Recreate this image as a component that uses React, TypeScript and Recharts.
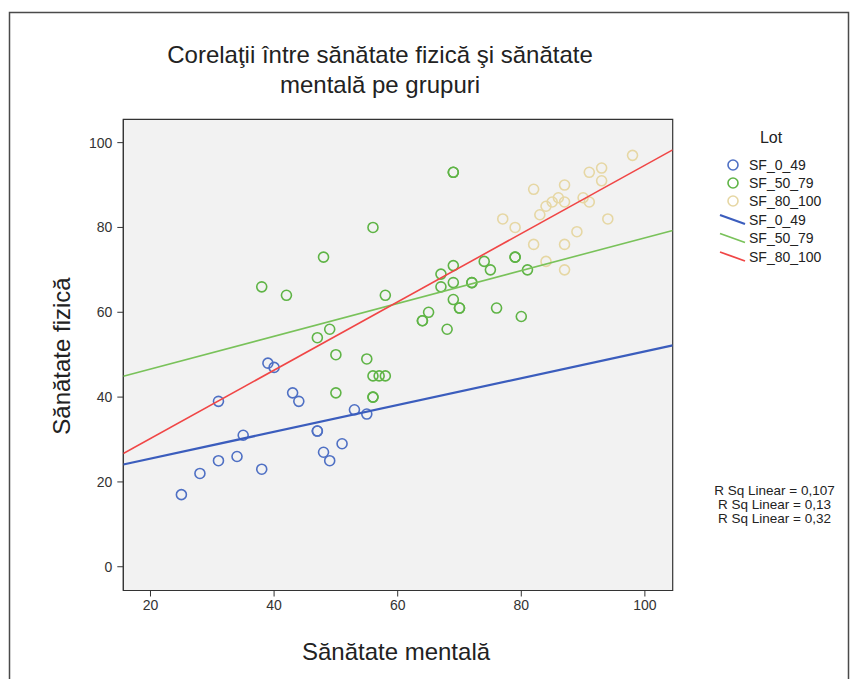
import { ScatterChart, Scatter, XAxis, YAxis, ReferenceArea } from 'recharts';

const FONT = '"Liberation Sans", Arial, Helvetica, sans-serif';

const lotNames = ['SF_0_49', 'SF_50_79', 'SF_80_100'];
const rSqValues = ['0,107', '0,13', '0,32'];
const xTicks = [20, 40, 60, 80, 100];
const yTicks = [0, 20, 40, 60, 80, 100];

// sănătate mentală, sănătate fizică
const sf049 = [
  [25, 17], [28, 22], [31, 25], [34, 26], [31, 39], [35, 31], [38, 23], [39, 48], [40, 47],
  [43, 41], [44, 39], [47, 32], [47, 32], [48, 27], [49, 25], [51, 29], [53, 37], [55, 36],
];

const sf5079 = [
  [38, 66], [42, 64], [48, 73], [56, 80], [58, 64], [47, 54], [49, 56], [50, 50], [55, 49],
  [56, 45], [57, 45], [58, 45], [50, 41], [56, 40], [56, 40], [69, 93], [69, 93], [67, 69],
  [69, 71], [74, 72], [75, 70], [79, 73], [79, 73], [81, 70], [67, 66], [69, 67], [72, 67],
  [72, 67], [69, 63], [70, 61], [70, 61], [65, 60], [64, 58], [64, 58], [68, 56], [76, 61],
  [80, 59],
];

const sf80100 = [
  [98, 97], [91, 93], [93, 94], [93, 91], [82, 89], [87, 90], [86, 87], [85, 86], [84, 85],
  [87, 86], [90, 87], [91, 86], [83, 83], [77, 82], [79, 80], [94, 82], [89, 79], [82, 76],
  [87, 76], [84, 72], [87, 70],
];

// fit lines, ends read at the plot edges
const fit049 = [[15.6, 24.1], [104.5, 52.2]];
const fit5079 = [[15.6, 44.9], [104.5, 79.3]];
const fit80100 = [[15.6, 26.7], [104.5, 98.3]];

const ringColors = ['#4f70c4', '#5fb446', '#e6d7a4'];
const lineColors = ['#3b5dbd', '#79c25a', '#f04646'];

const toPts = (arr: number[][]) => arr.map(([x, y]) => ({ x, y }));

const ring = (color: string) => (props: any) => (
  <circle cx={props.cx} cy={props.cy} r={5} fill="none" stroke={color} strokeWidth={1.6} />
);

const noDot = () => <g />;

export default function App() {
  const tickStyle = { fill: '#333', fontSize: 14, fontFamily: FONT };
  return (
    <div style={{ position: 'absolute', left: 0, top: 0, width: 854, height: 679, overflow: 'hidden', background: '#fff' }}>
      <ScatterChart width={854} height={679} margin={{ top: 119.3, right: 181.3, bottom: 58.5, left: 73.3 }}>
        <XAxis
          type="number"
          dataKey="x"
          domain={[15.6, 104.5]}
          ticks={xTicks}
          allowDataOverflow
          height={30}
          tickSize={6}
          tickMargin={4}
          axisLine={{ stroke: '#333' }}
          tickLine={{ stroke: '#333' }}
          tick={tickStyle}
        />
        <YAxis
          type="number"
          dataKey="y"
          domain={[-5.6, 105.5]}
          ticks={yTicks}
          allowDataOverflow
          width={50}
          tickSize={6}
          tickMargin={5}
          axisLine={{ stroke: '#333' }}
          tickLine={{ stroke: '#333' }}
          tick={tickStyle}
        />
        <ReferenceArea x1={15.6} x2={104.5} y1={-5.6} y2={105.5} fill="#f2f2f2" fillOpacity={1} stroke="#333" strokeWidth={1.2} />
        <Scatter data={toPts(sf049)} shape={ring(ringColors[0])} isAnimationActive={false} />
        <Scatter data={toPts(sf5079)} shape={ring(ringColors[1])} isAnimationActive={false} />
        <Scatter data={toPts(sf80100)} shape={ring(ringColors[2])} isAnimationActive={false} />
        <Scatter data={toPts(fit049)} shape={noDot} line={{ stroke: lineColors[0], strokeWidth: 2.2 }} isAnimationActive={false} />
        <Scatter data={toPts(fit5079)} shape={noDot} line={{ stroke: lineColors[1], strokeWidth: 1.6 }} isAnimationActive={false} />
        <Scatter data={toPts(fit80100)} shape={noDot} line={{ stroke: lineColors[2], strokeWidth: 1.6 }} isAnimationActive={false} />
      </ScatterChart>

      <svg width={854} height={679} style={{ position: 'absolute', left: 0, top: 0, pointerEvents: 'none' }} fontFamily={FONT}>
        {/* frame */}
        <path d="M9.5 679 V12.5 H848.5 V679" fill="none" stroke="#4a4a4a" strokeWidth={1.5} />

        <text x={380} y={63} textAnchor="middle" fontSize={24} fill="#222">Corelaţii între sănătate fizică şi sănătate</text>
        <text x={380} y={93} textAnchor="middle" fontSize={24} fill="#222">mentală pe grupuri</text>

        <text x={396} y={660} textAnchor="middle" fontSize={24} fill="#222">Sănătate mentală</text>
        <text transform="translate(70,356) rotate(-90)" textAnchor="middle" fontSize={24} fill="#222">Sănătate fizică</text>

        {/* legend */}
        <text x={771} y={143} textAnchor="middle" fontSize={16} fill="#222">Lot</text>
        {lotNames.map((name, i) => (
          <g key={'c' + name}>
            <circle cx={733} cy={165 + i * 18} r={5} fill="none" stroke={ringColors[i]} strokeWidth={1.6} />
            <text x={749} y={170 + i * 18} fontSize={14} fill="#222">{name}</text>
          </g>
        ))}
        {lotNames.map((name, i) => (
          <g key={'l' + name}>
            <line x1={720} y1={215 + i * 18.5} x2={745} y2={224 + i * 18.5} stroke={lineColors[i]} strokeWidth={i === 0 ? 2.2 : 1.8} />
            <text x={749} y={224.5 + i * 18.5} fontSize={14} fill="#222">{name}</text>
          </g>
        ))}

        {rSqValues.map((v, i) => (
          <text key={v} x={774.5} y={494.5 + i * 14} textAnchor="middle" fontSize={13.5} fill="#222">R Sq Linear = {v}</text>
        ))}
      </svg>
    </div>
  );
}
